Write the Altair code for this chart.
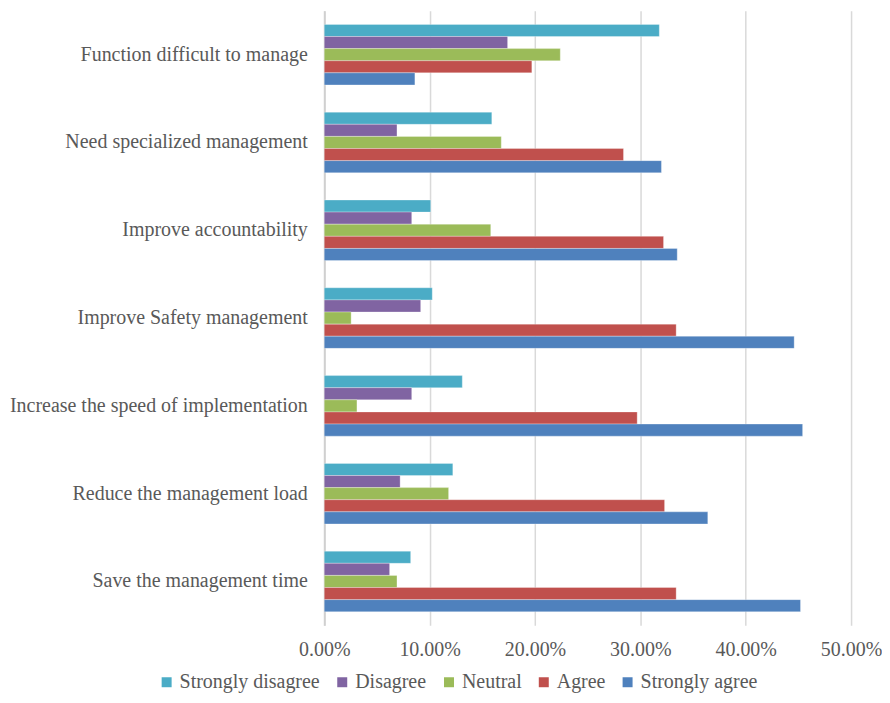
import altair as alt
import pandas as pd

categories = [
    "Function difficult to manage",
    "Need specialized management",
    "Improve accountability",
    "Improve Safety management",
    "Increase the speed of implementation",
    "Reduce the management load",
    "Save the management time",
]
series = ["Strongly disagree", "Disagree", "Neutral", "Agree", "Strongly agree"]
colors = ["#4BACC6", "#8064A2", "#9BBB59", "#C0504D", "#4F81BD"]

strongly_disagree = [31.8, 15.9, 10.1, 10.25, 13.1, 12.2, 8.2]
disagree = [17.4, 6.9, 8.3, 9.15, 8.3, 7.2, 6.2]
neutral = [22.4, 16.8, 15.8, 2.55, 3.1, 11.8, 6.9]
agree = [19.7, 28.4, 32.2, 33.4, 29.7, 32.3, 33.4]
strongly_agree = [8.6, 32.0, 33.5, 44.6, 45.4, 36.4, 45.2]

values = [strongly_disagree, disagree, neutral, agree, strongly_agree]
rows = []
for s, vals in zip(series, values):
    for c, v in zip(categories, vals):
        rows.append({"category": c, "series": s, "value": v / 100})
df = pd.DataFrame(rows)

FONT = "Liberation Serif"
TXT = "#595959"

chart = (
    alt.Chart(df)
    .mark_bar(stroke="#ffffff", strokeWidth=0.6, strokeOpacity=0.5)
    .encode(
        y=alt.Y(
            "category:N",
            sort=categories,
            title=None,
            scale=alt.Scale(paddingInner=0.31, paddingOuter=0.155),
            axis=alt.Axis(
                ticks=False,
                labelPadding=17,
                labelFont=FONT,
                labelFontSize=20,
                labelColor=TXT,
                domainColor="#d0d0d0",
                domainWidth=2,
                labelLimit=400,
            ),
        ),
        yOffset=alt.YOffset(
            "series:N", sort=series, scale=alt.Scale(paddingInner=0, paddingOuter=0)
        ),
        x=alt.X(
            "value:Q",
            title=None,
            scale=alt.Scale(domain=[0, 0.5], nice=False),
            axis=alt.Axis(
                format=".2%",
                values=[0, 0.1, 0.2, 0.3, 0.4, 0.5],
                ticks=False,
                domain=False,
                labelFlush=False,
                labelPadding=14,
                labelFont=FONT,
                labelFontSize=20,
                labelColor=TXT,
                gridColor="#d9d9d9",
                gridWidth=1.5,
            ),
        ),
        color=alt.Color(
            "series:N",
            sort=series,
            scale=alt.Scale(domain=series, range=colors),
            legend=alt.Legend(
                title=None,
                orient="none",
                direction="horizontal",
                legendX=-168,
                legendY=663,
                symbolType="square",
                symbolSize=100,
                symbolStrokeWidth=0,
                labelFont=FONT,
                labelFontSize=20,
                labelColor=TXT,
                labelOffset=3,
                columnPadding=12,
            ),
        ),
    )
    .properties(
        width=528,
        height=616,
        padding={"left": 1, "top": 2, "right": 0, "bottom": 0},
    )
    .configure_view(stroke=None)
    .configure_axisY(grid=False)
)

chart.save("out.html", embed_options={"renderer": "svg", "actions": False})
